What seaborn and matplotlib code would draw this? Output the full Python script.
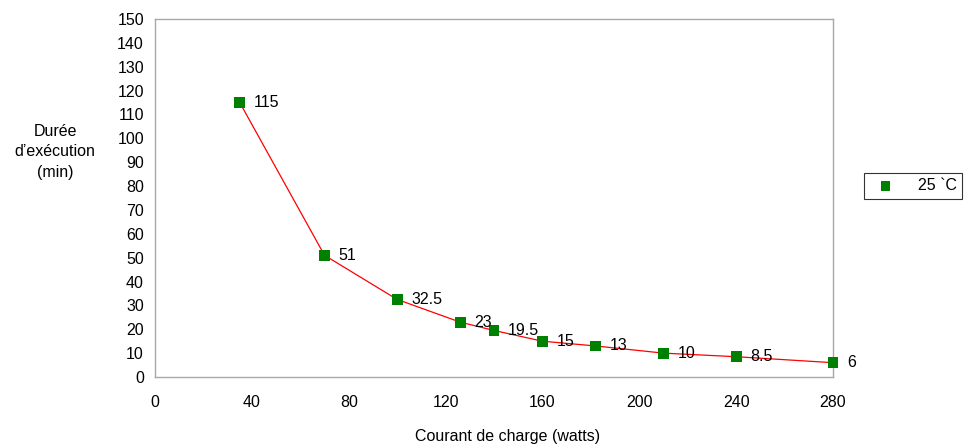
import matplotlib
matplotlib.use("Agg")
import matplotlib.pyplot as plt
import seaborn as sns
import pandas as pd

# données
puissance = [35, 70, 100, 126, 140, 160, 182, 210, 240, 280]
duree = [115, 51, 32.5, 23, 19.5, 15, 13, 10, 8.5, 6]
etiquettes = ["115", "51", "32.5", "23", "19.5", "15", "13", "10", "8.5", "6"]
x_ticks = [0, 40, 80, 120, 160, 200, 240, 280]
y_ticks = list(range(0, 151, 10))
serie = "25 `C"

df = pd.DataFrame({"Courant": puissance, "Duree": duree})

sns.set_style("white")
plt.rcParams["font.family"] = ["Liberation Sans", "DejaVu Sans"]
fs = 11.5
plt.rcParams["font.size"] = fs
plt.rcParams["text.color"] = "black"
plt.rcParams["xtick.color"] = "black"
plt.rcParams["ytick.color"] = "black"

fig = plt.figure(figsize=(9.8, 4.45), dpi=100)
ax = fig.add_axes([155 / 980, 1 - 377 / 445, (833 - 155) / 980, (377 - 19) / 445])

sns.lineplot(data=df, x="Courant", y="Duree", color="#ff0000", linewidth=0.9,
             legend=False, ax=ax, zorder=2)
sns.scatterplot(data=df, x="Courant", y="Duree", marker="s", s=62, color="#008000",
                edgecolor="none", label=serie, ax=ax, zorder=3, clip_on=False)

for x, y, t in zip(puissance, duree, etiquettes):
    ax.annotate(t, (x, y), xytext=(10, 0), textcoords="offset points",
                va="center", ha="left", fontsize=fs, color="black")

ax.set_xlim(0, 280)
ax.set_ylim(0, 150)
ax.set_xticks(x_ticks)
ax.set_yticks(y_ticks)
ax.tick_params(axis="x", length=0, pad=13, labelsize=fs, labelcolor="black")
ax.tick_params(axis="y", length=0, pad=8, labelsize=fs, labelcolor="black")
for s in ax.spines.values():
    s.set_color("#a8a8a8")
    s.set_linewidth(1.0)

ax.set_xlabel("")
ax.set_ylabel("")
fig.text(508 / 980, 1 - 437 / 445, "Courant de charge (watts)", ha="center", va="center",
         fontsize=fs)
fig.text(55 / 980, 1 - 152 / 445, "Durée\nd’exécution\n(min)", ha="center", va="center",
         fontsize=fs, linespacing=1.45, multialignment="center")

ax.get_legend().remove()
h, l = ax.get_legend_handles_labels()
leg = fig.legend(h, l, loc="center left", bbox_to_anchor=(864 / 980, 1 - 186 / 445),
                 borderaxespad=0, frameon=True, fancybox=False, edgecolor="black",
                 fontsize=fs, handlelength=2.0, handletextpad=1.0, borderpad=0.35,
                 markerscale=0.9)
leg.get_frame().set_linewidth(0.8)

fig.savefig("out.png", dpi=100)
